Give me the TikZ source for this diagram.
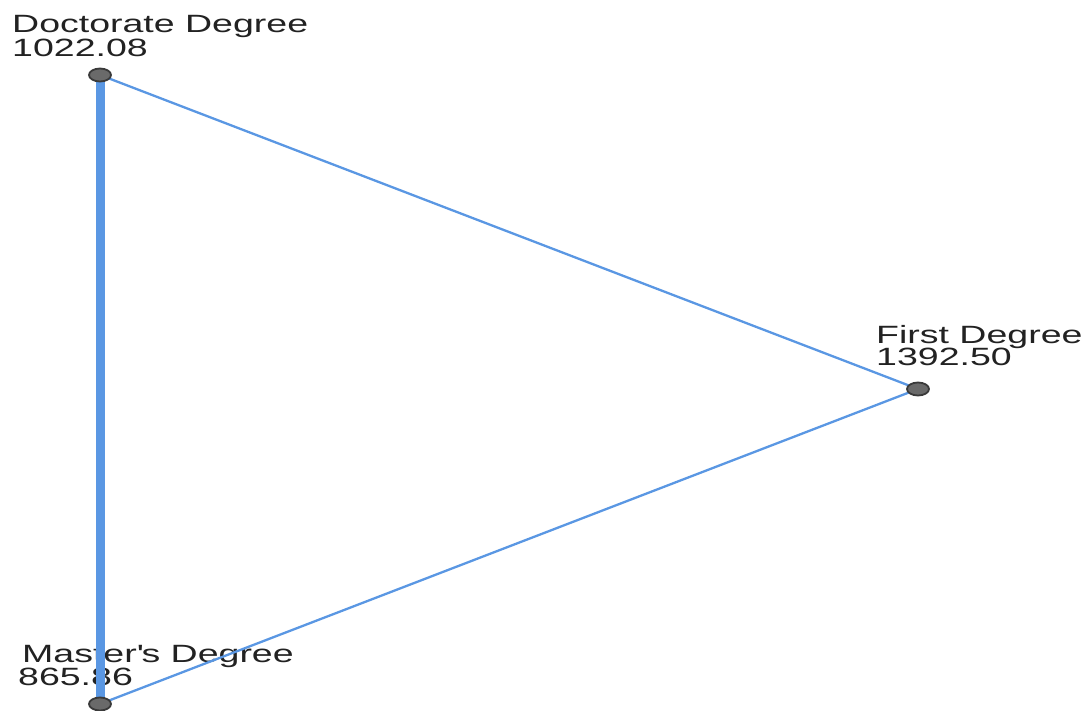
\documentclass[tikz,border=0pt]{standalone}
\usepackage{fontspec}
\setmainfont{Liberation Sans}[FakeStretch=1.5]
\usetikzlibrary{shapes.geometric}
\definecolor{edgeblue}{HTML}{5A97E3}
\definecolor{nodefill}{HTML}{6A6A6A}
\definecolor{nodeline}{HTML}{3A3A3A}
\definecolor{txt}{HTML}{222222}
\tikzset{
  vert/.style={ellipse, draw=nodeline, fill=nodefill, line width=1.8pt, minimum width=22pt, minimum height=13pt, inner sep=0pt},
  lbl/.style={anchor=base west, inner sep=0pt, text=txt, font=\fontsize{25pt}{23pt}\selectfont, align=left},
  thin/.style={draw=edgeblue, line width=2.3pt},
  thick/.style={draw=edgeblue, line width=9pt}
}
\begin{document}
\begin{tikzpicture}[x=1pt,y=-1pt]
\useasboundingbox (0,0) rectangle (1088,711);
% labels (behind edges)
\node[lbl] (ldoc) at (12,33) {Doctorate Degree};
\node[lbl] (ldocv) at (12,57) {1022.08};
\node[lbl] (lfirst) at (876,344) {First Degree};
\node[lbl] (lfirstv) at (876,366) {1392.50};
\node[lbl] (lmas) at (22,662) {Master\textquotesingle s Degree};
\node[lbl] (lmasv) at (18,685) {865.86};
% node positions
\coordinate (pd) at (100,75);
\coordinate (pf) at (918,389);
\coordinate (pm) at (100,704);
% edges
\draw[thick] (pd) -- (pm);
\draw[thin] (pd) -- (pf);
\draw[thin] (pf) -- (pm);
% vertices
\node[vert] (doc) at (pd) {};
\node[vert] (first) at (pf) {};
\node[vert] (mas) at (pm) {};
\end{tikzpicture}
\end{document}
